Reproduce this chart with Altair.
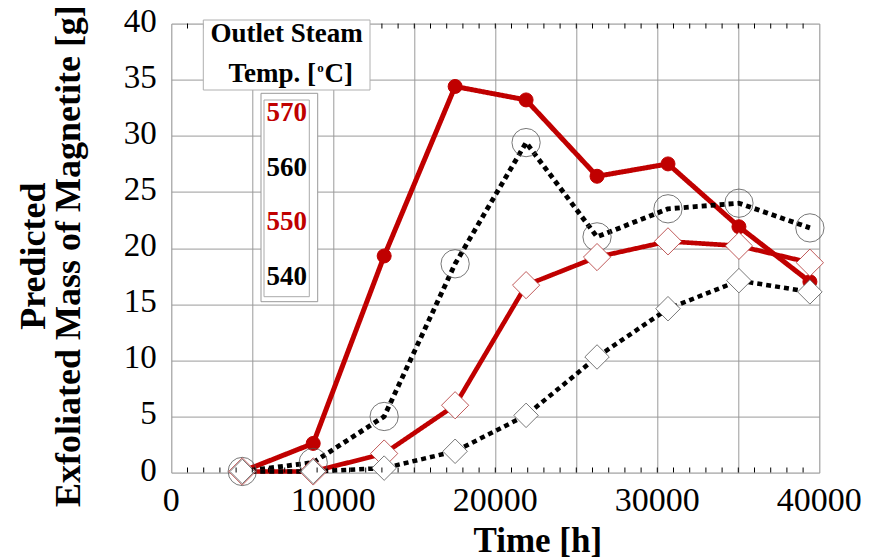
import altair as alt
import pandas as pd

# ---- data ----
hours = [4380, 8760, 13140, 17520, 21900, 26280, 30660, 35040, 39420]
series_names = ["570", "560", "550", "540"]
mass_570 = [0.1, 2.6, 19.3, 34.4, 33.2, 26.4, 27.5, 21.9, 17.0]
mass_560 = [0.1, 0.9, 5.0, 18.6, 29.4, 21.0, 23.5, 24.0, 21.8]
mass_550 = [0.1, 0.1, 1.7, 6.0, 16.7, 19.2, 20.6, 20.2, 18.7]
mass_540 = [0.1, 0.1, 0.4, 1.9, 5.1, 10.3, 14.6, 17.1, 16.1]
x_ticks = list(range(0, 40001, 5000))
x_label_values = [0, 10000, 20000, 30000, 40000]
y_ticks = list(range(0, 41, 5))
minor_x_ticks = list(range(1000, 40000, 1000))

# ---- styles ----
RED = "#c00000"
SERIF = "Liberation Serif"
W, H = 648, 449
series_colors = [RED, "black", RED, "black"]
marker_styles = {
    "570": dict(shape="circle", size=196, fill=RED, fillOpacity=1, stroke=RED, strokeWidth=1),
    "560": dict(shape="circle", size=800, fill="white", fillOpacity=0, stroke="#555555", strokeWidth=0.8),
    "550": dict(shape="diamond", size=740, fill="white", fillOpacity=1, stroke="#b03030", strokeWidth=0.8),
    "540": dict(shape="diamond", size=600, fill="white", fillOpacity=1, stroke="#555555", strokeWidth=0.8),
}

rows = []
for name, vals in zip(series_names, [mass_570, mass_560, mass_550, mass_540]):
    for h, v in zip(hours, vals):
        rows.append({"hours": h, "mass": v, "series": name})
df = pd.DataFrame(rows)

dom = series_names

x_enc = alt.X(
    "hours:Q",
    scale=alt.Scale(domain=[0, 40000], nice=False, zero=False),
    axis=alt.Axis(
        values=x_ticks, labels=False,
        grid=True, gridColor="#9a9a9a", gridWidth=1,
        ticks=False, domain=False,
        title="Time [h]", titleFont=SERIF, titleFontSize=35,
        titleFontWeight="bold", titleColor="black",
        titleX=366, titleY=79, titleBaseline="alphabetic", titleAlign="center",
    ),
)
y_enc = alt.Y(
    "mass:Q",
    scale=alt.Scale(domain=[0, 40], nice=False, zero=False),
    axis=alt.Axis(
        values=y_ticks, labels=False, grid=True, gridColor="#9a9a9a", gridWidth=1,
        ticks=False, domain=False,
        title=["Predicted", "Exfoliated Mass of Magnetite [g]"],
        titleFont=SERIF, titleFontSize=36, titleFontWeight="bold",
        titleColor="black", titleLineHeight=35,
        titleX=-138, titleY=232, titleAngle=270,
        titleAlign="center", titleBaseline="middle",
    ),
)

base = alt.Chart(df)

lines = base.mark_line(strokeCap="butt", strokeJoin="round").encode(
    x=x_enc, y=y_enc,
    color=alt.Color("series:N", scale=alt.Scale(domain=dom, range=series_colors), legend=None),
    strokeDash=alt.StrokeDash("series:N", scale=alt.Scale(domain=dom, range=[[1, 0], [5, 4], [1, 0], [5, 4]]), legend=None),
    strokeWidth=alt.StrokeWidth("series:N", scale=alt.Scale(domain=dom, range=[5, 4.5, 5, 4.5]), legend=None),
    detail="series:N",
)

point_layers = []
for name in series_names:
    st = marker_styles[name]
    point_layers.append(
        base.transform_filter(alt.datum.series == name).mark_point(
            filled=True, opacity=1, shape=st["shape"], size=st["size"],
            fill=st["fill"], fillOpacity=st["fillOpacity"],
            stroke=st["stroke"], strokeWidth=st["strokeWidth"],
        ).encode(x=x_enc, y=y_enc)
    )

# inward minor ticks on bottom and top
tick_df = pd.DataFrame({"hours": minor_x_ticks})
ticks_bottom = alt.Chart(tick_df).mark_tick(color="black", thickness=1, size=5, opacity=1).encode(
    x=x_enc, y=alt.value(H - 2.5)
)
ticks_top = alt.Chart(tick_df).mark_tick(color="black", thickness=1, size=5, opacity=1).encode(
    x=x_enc, y=alt.value(2.5)
)

# tick labels drawn through the same scales
xlab = alt.Chart(pd.DataFrame({"hours": x_label_values})).mark_text(
    font=SERIF, fontSize=34, color="black", align="center", baseline="alphabetic"
).encode(x=x_enc, y=alt.value(H + 38.5), text=alt.Text("hours:Q", format="d"))
ylab = alt.Chart(pd.DataFrame({"mass": y_ticks})).mark_text(
    font=SERIF, fontSize=33, color="black", align="right", baseline="alphabetic", dy=8
).encode(y=y_enc, x=alt.value(-14.6), text=alt.Text("mass:Q", format="d"))

# ---- custom legend ----
one = pd.DataFrame({"k": [0]})
def box(x1, x2, y1, y2, stroke="#aaaaaa"):
    return alt.Chart(one).mark_rect(fill="white", stroke=stroke, strokeWidth=1).encode(
        x=alt.value(x1), x2=alt.value(x2), y=alt.value(y1), y2=alt.value(y2)
    )

def txt(s, x, y, size, color="black", align="center", baseline="alphabetic", weight="bold"):
    return alt.Chart(one).mark_text(
        text=s, font=SERIF, fontSize=size, fontWeight=weight, color=color,
        align=align, baseline=baseline,
    ).encode(x=alt.value(x), y=alt.value(y))

legend_layers = [
    box(32, 198.7, -3.6, 66.4, "#b0b0b0"),
    box(89.7, 146.4, 69.7, 278.1, "#999999"),
    box(92.7, 138, 76.4, 273.1, "#aaaaaa"),
    txt("Outlet Steam", 115.4, 18.5, 27),
    txt("Temp. [", 144.7, 58.1, 27, align="right"),
    txt("o", 149.2, 48.6, 13),
    txt("C]", 153.2, 58.1, 27, align="left"),
]
for i, (name, col) in enumerate(zip(series_names, series_colors)):
    legend_layers.append(txt(name, 115.4, 89.7 + i * 54.5, 27, color=col, baseline="middle"))

chart = alt.layer(
    lines, *point_layers, ticks_bottom, ticks_top, xlab, ylab, *legend_layers
).properties(
    width=W, height=H,
    autosize=alt.AutoSizeParams(type="none"),
    padding={"left": 171.3, "top": 23.6, "right": 64.7, "bottom": 87.4},
).configure_view(
    stroke="black", strokeWidth=2
).configure_axis(
    titleFont=SERIF
).configure(background="white", font=SERIF)

chart.save("out.html", embed_options={"renderer": "svg", "actions": False})
